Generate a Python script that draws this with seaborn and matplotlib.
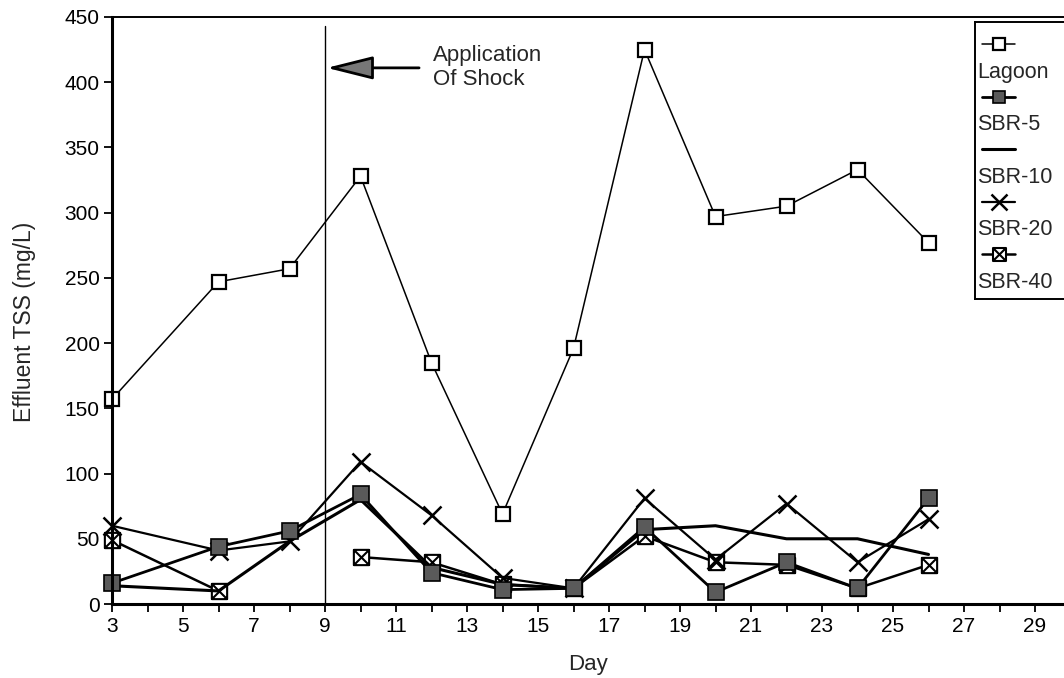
import numpy as np
import pandas as pd
import matplotlib
matplotlib.use("Agg")
import matplotlib.pyplot as plt
import seaborn as sns
from matplotlib.path import Path

# ---------------- data ----------------
days = [3, 6, 8, 10, 12, 14, 16, 18, 20, 22, 24, 26]
lagoon = [157, 247, 257, 328, 185, 69, 196, 425, 297, 305, 333, 277]
sbr5 = [16, 44, 56, 84, 24, 11, 12, 59, 9, 32, 12, 81]
sbr10 = [14, 10, 48, 80, 28, 15, 12, 57, 60, 50, 50, 38]
sbr20 = [60, 41, 48, 109, 68, 20, 12, 81, 34, 77, 32, 65]
sbr40 = [49, 10, np.nan, 36, 32, 15, 12, 52, 32, 30, 12, 30]
series_names = ["Lagoon", "SBR-5", "SBR-10", "SBR-20", "SBR-40"]
x_ticks = list(range(3, 30, 2))
y_ticks = list(range(0, 451, 50))
annotation_text = "Application\nOf Shock"
shock_day = 9

# ---------------- style ----------------
sns.set_theme(style="white")
plt.rcParams["font.family"] = ["Liberation Sans", "DejaVu Sans"]

boxx = Path(
    [(-1, -1), (1, -1), (1, 1), (-1, 1), (-1, -1), (-1, -1), (1, 1), (-1, 1), (1, -1)],
    [Path.MOVETO, Path.LINETO, Path.LINETO, Path.LINETO, Path.CLOSEPOLY,
     Path.MOVETO, Path.LINETO, Path.MOVETO, Path.LINETO],
)
gray = "#5a5a5a"
styles = {
    "Lagoon": dict(marker="s", markersize=10, markerfacecolor="white", markeredgecolor="black",
                   markeredgewidth=1.6, linewidth=1.1),
    "SBR-5": dict(marker="s", markersize=11, markerfacecolor=gray, markeredgecolor="black",
                  markeredgewidth=1.2, linewidth=2.0),
    "SBR-10": dict(marker="", linewidth=2.2),
    "SBR-20": dict(marker="x", markersize=13, markeredgecolor="black",
                   markeredgewidth=1.8, linewidth=1.6),
    "SBR-40": dict(marker=boxx, markersize=11, markerfacecolor="white", markeredgecolor="black",
                   markeredgewidth=1.5, linewidth=1.8),
}

frames = []
for name, vals in zip(series_names, [lagoon, sbr5, sbr10, sbr20, sbr40]):
    d = pd.DataFrame({"Day": days, "TSS": vals, "Series": name})
    d["seg"] = d["TSS"].isna().cumsum()
    frames.append(d.dropna())
df = pd.concat(frames, ignore_index=True)

fig = plt.figure(figsize=(10.64, 6.78), dpi=100)
W, H = 1064, 678
ax_left, ax_right, ax_top, ax_bottom = 112, 1064, 17, 604
ax = fig.add_axes([ax_left / W, 1 - ax_bottom / H, (ax_right - ax_left) / W, (ax_bottom - ax_top) / H])

for name in series_names[::-1]:
    sub = df[df["Series"] == name]
    sns.lineplot(data=sub, x="Day", y="TSS", units="seg", estimator=None, sort=True,
                 color="black", ax=ax, legend=False, clip_on=False, **styles[name])

ax.set_xlim(3, 3 + (ax_right - ax_left) / 35.5)
ax.set_ylim(0, 450)
ax.set_xticks(x_ticks)
ax.set_xticks(list(range(4, 30, 2)), minor=True)
ax.set_yticks(y_ticks)
ax.tick_params(axis="both", which="both", direction="out", length=6, width=1.3,
               color="black", labelsize=15, labelcolor="black", pad=3)
ax.tick_params(axis="x", which="minor", length=6)
ax.tick_params(axis="x", bottom=True, which="both")
ax.tick_params(axis="y", left=True)
for s in ["left", "bottom"]:
    ax.spines[s].set_linewidth(2.2)
    ax.spines[s].set_color("black")
ax.spines["top"].set_linewidth(1.4)
ax.spines["top"].set_color("black")
ax.spines["right"].set_visible(False)
ax.grid(False)

ax.set_xlabel("Day", fontsize=16)
ax.set_ylabel("Effluent TSS (mg/L)", fontsize=16.5)
ax.xaxis.set_label_coords((588 - ax_left) / (ax_right - ax_left), -0.085)
ax.yaxis.set_label_coords(-0.08, 0.48)

# shock line & annotation
ax.axvline(shock_day, ymin=0, ymax=0.985, color="black", linewidth=1.0)
ax.annotate("", xy=(shock_day + 0.05, 411), xytext=(11.65, 411),
            arrowprops=dict(arrowstyle="-|>,head_length=2.4,head_width=0.6",
                            edgecolor="black", facecolor="#777777", linewidth=2.0,
                            shrinkA=0, shrinkB=0))
ax.text(12.05, 411, annotation_text, fontsize=16, ha="left", va="center", linespacing=1.2)

# legend (handle above label, boxed, cut off at right edge)
lx0, ly0, lw, lh = 975, 22, 110, 277
lax = fig.add_axes([lx0 / W, 1 - (ly0 + lh) / H, lw / W, lh / H])
lax.set_xlim(0, lw)
lax.set_ylim(lh, 0)
lax.set_xticks([])
lax.set_yticks([])
lax.patch.set_alpha(0)
for s in ["left", "top", "bottom"]:
    lax.spines[s].set_linewidth(1.4)
    lax.spines[s].set_color("black")
lax.spines["right"].set_visible(False)
for i, name in enumerate(series_names):
    hy = 22 + 52.5 * i
    ty = 50 + 52.5 * i
    st = dict(styles[name])
    lw_ = st.pop("linewidth")
    st["markersize"] = st.get("markersize", 0) * 0.85
    lax.plot([7, 40], [hy, hy], color="black", linewidth=lw_)
    if st.get("marker"):
        lax.plot([23.5], [hy], color="black", linestyle="none", **st)
    lax.text(2, ty, name, fontsize=15.5, ha="left", va="center")

fig.savefig("out.png", dpi=100)
